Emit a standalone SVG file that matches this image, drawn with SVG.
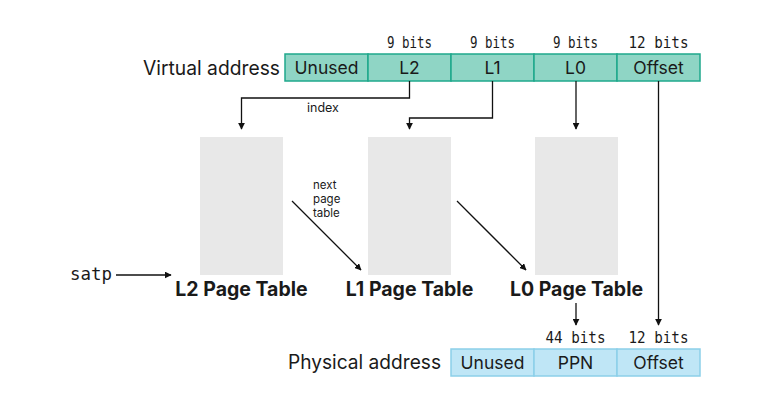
<svg xmlns="http://www.w3.org/2000/svg" width="779" height="405" viewBox="0 0 779 405">
<style>
.sans{font-family:Inter,"Noto Sans","Liberation Sans",sans-serif;fill:#1a1a1a}
.mono{font-family:"DejaVu Sans Mono","Liberation Mono",monospace;fill:#1a1a1a}
.va{fill:#8fd5c5;stroke:#1fa88c;stroke-width:1.5}
.pa{fill:#bfe6f6;stroke:#8ccfe9;stroke-width:1.5}
.pt{fill:#e8e8e8}
.cell{font-size:17.5px;text-anchor:middle}
.bits{font-size:16px;text-anchor:middle}
.title{font-size:19.5px}
.ptl{font-size:19.5px;font-weight:700;text-anchor:middle}
.small{font-size:11.5px}
.con{fill:none;stroke:#111;stroke-width:1.3}
</style>
<defs>
<marker id="ah" viewBox="0 0 10 10" refX="9" refY="5" markerWidth="7" markerHeight="7" orient="auto" markerUnits="userSpaceOnUse">
<path d="M0,0 L10,5 L0,10 z" fill="#111"/>
</marker>
</defs>
<rect width="779" height="405" fill="#fff"/>

<g id="virtual-address">
<text class="sans title" x="280" y="75" text-anchor="end" textLength="137" lengthAdjust="spacingAndGlyphs">Virtual address</text>
<rect class="va" x="285" y="54" width="83" height="27"/>
<rect class="va" x="368" y="54" width="83" height="27"/>
<rect class="va" x="451" y="54" width="83" height="27"/>
<rect class="va" x="534" y="54" width="83" height="27"/>
<rect class="va" x="617" y="54" width="83" height="27"/>
<text class="sans cell" x="326.5" y="74">Unused</text>
<text class="sans cell" x="409.5" y="74">L2</text>
<text class="sans cell" x="492.5" y="74">L1</text>
<text class="sans cell" x="575.5" y="74">L0</text>
<text class="sans cell" x="658.5" y="74">Offset</text>
<text class="mono bits" x="409.5" y="48" textLength="45" lengthAdjust="spacingAndGlyphs">9 bits</text>
<text class="mono bits" x="492.5" y="48" textLength="45" lengthAdjust="spacingAndGlyphs">9 bits</text>
<text class="mono bits" x="575.5" y="48" textLength="45" lengthAdjust="spacingAndGlyphs">9 bits</text>
<text class="mono bits" x="658.5" y="48" textLength="60" lengthAdjust="spacingAndGlyphs">12 bits</text>
</g>

<g id="l2-table">
<rect class="pt" x="200" y="137" width="83" height="138"/>
<text class="sans ptl" x="241.5" y="296">L2 Page Table</text>
</g>
<g id="l1-table">
<rect class="pt" x="368" y="137" width="83" height="138"/>
<text class="sans ptl" x="409.5" y="296">L1 Page Table</text>
</g>
<g id="l0-table">
<rect class="pt" x="535" y="137" width="83" height="138"/>
<text class="sans ptl" x="576.5" y="296">L0 Page Table</text>
</g>

<g id="satp">
<text class="mono" x="70" y="280" font-size="18" textLength="42" lengthAdjust="spacingAndGlyphs">satp</text>
</g>

<g id="physical-address">
<text class="sans title" x="441" y="369" text-anchor="end" textLength="153" lengthAdjust="spacingAndGlyphs">Physical address</text>
<rect class="pa" x="451" y="349" width="83" height="27"/>
<rect class="pa" x="534" y="349" width="83" height="27"/>
<rect class="pa" x="617" y="349" width="83" height="27"/>
<text class="sans cell" x="492.5" y="369">Unused</text>
<text class="sans cell" x="575.5" y="369">PPN</text>
<text class="sans cell" x="658.5" y="369">Offset</text>
<text class="mono bits" x="575.5" y="343" textLength="60" lengthAdjust="spacingAndGlyphs">44 bits</text>
<text class="mono bits" x="658.5" y="343" textLength="60" lengthAdjust="spacingAndGlyphs">12 bits</text>
</g>

<g id="connectors">
<path class="con" d="M409.5,81 V98 H241.5 V129" marker-end="url(#ah)"/>
<text class="sans" x="323" y="112" font-size="12.5" text-anchor="middle">index</text>
<path class="con" d="M492.5,81 V118 H409.5 V129" marker-end="url(#ah)"/>
<path class="con" d="M576,81 V129" marker-end="url(#ah)"/>
<path class="con" d="M658.5,81 V325" marker-end="url(#ah)"/>
<path class="con" d="M292,201 L361,270" marker-end="url(#ah)"/>
<text class="sans small" x="313" y="189">next</text>
<text class="sans small" x="313" y="203">page</text>
<text class="sans small" x="313" y="217">table</text>
<path class="con" d="M457,201 L526,270" marker-end="url(#ah)"/>
<path class="con" d="M116,275 H171" marker-end="url(#ah)"/>
<path class="con" d="M576,303 V325" marker-end="url(#ah)"/>
</g>
</svg>
